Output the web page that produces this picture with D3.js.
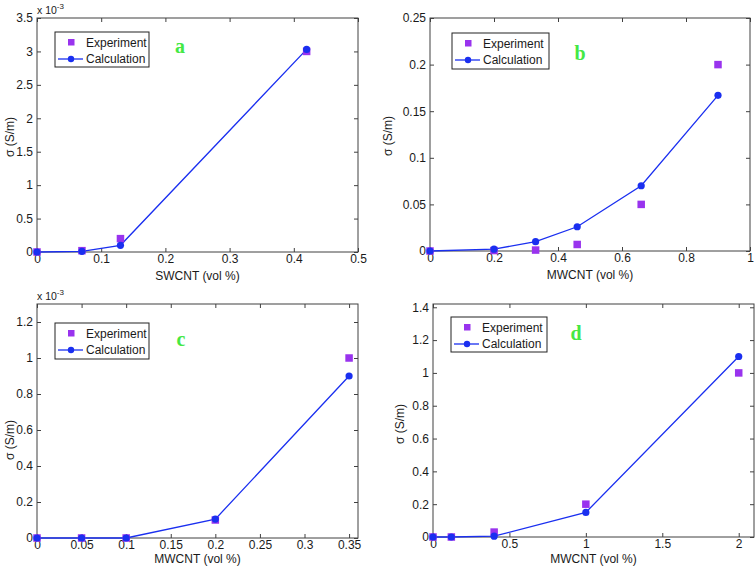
<!DOCTYPE html>
<html><head><meta charset="utf-8">
<script src="https://cdn.jsdelivr.net/npm/d3@7/dist/d3.min.js"></script>
<style>body{margin:0;background:#fff}svg{display:block;font-family:"Liberation Sans",Arial,sans-serif}</style>
</head><body><svg id="c" width="756" height="568"></svg>
<script>
// Panel a (SWCNT), values in units of 1e-3 S/m
const xA = [0, 0.07, 0.13, 0.42];
const expA = [0, 0.02, 0.2, 3.0];
const calcA = [0, 0.01, 0.1, 3.03];
const xTicksA = [0, 0.1, 0.2, 0.3, 0.4, 0.5];
const yTicksA = [0, 0.5, 1, 1.5, 2, 2.5, 3, 3.5];
// Panel b (MWCNT), S/m
const xB = [0, 0.2, 0.33, 0.46, 0.66, 0.9];
const expB = [0, 0.0005, 0.001, 0.007, 0.05, 0.2];
const calcB = [0, 0.002, 0.01, 0.026, 0.07, 0.167];
const xTicksB = [0, 0.2, 0.4, 0.6, 0.8, 1];
const yTicksB = [0, 0.05, 0.1, 0.15, 0.2, 0.25];
// Panel c (MWCNT), units of 1e-3 S/m
const xC = [0, 0.05, 0.1, 0.2, 0.35];
const expC = [0, 0, 0, 0.1, 1.0];
const calcC = [0, 0, 0, 0.105, 0.9];
const xTicksC = [0, 0.05, 0.1, 0.15, 0.2, 0.25, 0.3, 0.35];
const yTicksC = [0, 0.2, 0.4, 0.6, 0.8, 1, 1.2];
// Panel d (MWCNT), S/m
const xD = [0, 0.12, 0.4, 1, 2];
const expD = [0, 0, 0.03, 0.2, 1.0];
const calcD = [0, 0, 0.005, 0.15, 1.1];
const xTicksD = [0, 0.5, 1, 1.5, 2];
const yTicksD = [0, 0.2, 0.4, 0.6, 0.8, 1, 1.2, 1.4];

const svg = d3.select("#c");
const EXP = "#9933ee", CALC = "#1a2ff0", AX = "#404040", GREEN = "#44e844", TXT = "#1a1a1a";
const fmt = v => String(+v.toFixed(3));

function panel(o) {
  const g = svg.append("g");
  const x = d3.scaleLinear().domain(o.xd).range([o.l, o.r]);
  const y = d3.scaleLinear().domain(o.yd).range([o.b, o.t]);
  g.append("rect").attr("x", o.l).attr("y", o.t).attr("width", o.r - o.l).attr("height", o.b - o.t)
    .attr("fill", "none").attr("stroke", AX).attr("stroke-width", 1);
  const ax = [
    [d3.axisBottom(x).tickValues(o.xt).tickFormat(fmt).tickSize(-4).tickPadding(2), `translate(0,${o.b})`],
    [d3.axisTop(x).tickValues(o.xt).tickFormat("").tickSize(-4), `translate(0,${o.t})`],
    [d3.axisLeft(y).tickValues(o.yt).tickFormat(fmt).tickSize(-4).tickPadding(4), `translate(${o.l},0)`],
    [d3.axisRight(y).tickValues(o.yt).tickFormat("").tickSize(-4), `translate(${o.r},0)`]
  ];
  ax.forEach(([a, tr]) => {
    const s = g.append("g").attr("transform", tr).call(a);
    s.select(".domain").remove();
    s.selectAll("line").attr("stroke", AX);
    s.selectAll("text").attr("fill", TXT).style("font-size", "12px").style("font-family", "Liberation Sans, Arial, sans-serif");
  });
  if (o.exp) {
    const t = g.append("text").attr("x", o.l).attr("y", o.t - 4).attr("fill", TXT).style("font-size", "10.5px");
    t.append("tspan").text("x 10");
    t.append("tspan").attr("dy", -5).style("font-size", "8px").text("-3");
  }
  g.append("text").attr("x", (o.l + o.r) / 2).attr("y", o.xly).attr("text-anchor", "middle")
    .attr("fill", TXT).style("font-size", "12px").text(o.xl);
  g.append("text").attr("transform", `translate(${o.ylx},${o.ylc}) rotate(-90)`)
    .attr("text-anchor", "middle").attr("fill", TXT).style("font-size", "12px").text("σ (S/m)");
  const pts = o.x.map((v, i) => [v, o.calc[i]]);
  g.append("path").datum(pts).attr("fill", "none").attr("stroke", CALC).attr("stroke-width", 1.3)
    .attr("d", d3.line().x(d => x(d[0])).y(d => y(d[1])));
  g.selectAll(".sq").data(o.x.map((v, i) => [v, o.expv[i]])).enter().append("rect")
    .attr("x", d => x(d[0]) - 3.75).attr("y", d => y(d[1]) - 3.75).attr("width", 7.5).attr("height", 7.5)
    .attr("fill", EXP);
  g.selectAll(".ci").data(pts).enter().append("circle")
    .attr("cx", d => x(d[0])).attr("cy", d => y(d[1])).attr("r", 3.6).attr("fill", CALC);
  const L = o.leg;
  g.append("rect").attr("x", L[0]).attr("y", L[1]).attr("width", L[2]).attr("height", L[3])
    .attr("fill", "#fff").attr("stroke", "#222").attr("stroke-width", 1);
  g.append("rect").attr("x", L[0] + 13).attr("y", L[1] + 7).attr("width", 6.5).attr("height", 6.5).attr("fill", EXP);
  g.append("text").attr("x", L[0] + 31).attr("y", L[1] + 15).attr("fill", TXT).style("font-size", "12px").text("Experiment");
  g.append("line").attr("x1", L[0] + 3).attr("x2", L[0] + 28).attr("y1", L[1] + 27).attr("y2", L[1] + 27)
    .attr("stroke", CALC).attr("stroke-width", 1.3);
  g.append("circle").attr("cx", L[0] + 16).attr("cy", L[1] + 27).attr("r", 3.2).attr("fill", CALC);
  g.append("text").attr("x", L[0] + 31).attr("y", L[1] + 31).attr("fill", TXT).style("font-size", "12px").text("Calculation");
  g.append("text").attr("x", o.lt[0]).attr("y", o.lt[1]).attr("text-anchor", "middle")
    .attr("fill", GREEN).style("font-family", "Liberation Serif, Times New Roman, serif")
    .style("font-weight", "bold").style("font-size", "20px").text(o.letter);
}

panel({l: 37, r: 358, t: 18, b: 252, xd: [0, 0.5], yd: [0, 3.5], xt: xTicksA, yt: yTicksA,
  x: xA, expv: expA, calc: calcA, exp: true, xl: "SWCNT (vol %)", xly: 280, ylx: 14, ylc: 137,
  leg: [55, 32, 94, 35], lt: [180, 53], letter: "a"});
panel({l: 430, r: 750, t: 18, b: 251, xd: [0, 1], yd: [0, 0.25], xt: xTicksB, yt: yTicksB,
  x: xB, expv: expB, calc: calcB, exp: false, xl: "MWCNT (vol %)", xly: 279, ylx: 392, ylc: 136,
  leg: [452, 33, 97, 36], lt: [580, 60], letter: "b"});
panel({l: 37, r: 358, t: 304, b: 538, xd: [0, 0.36], yd: [0, 1.3], xt: xTicksC, yt: yTicksC,
  x: xC, expv: expC, calc: calcC, exp: true, xl: "MWCNT (vol %)", xly: 563, ylx: 14, ylc: 440,
  leg: [55, 323, 94, 36], lt: [181, 346], letter: "c"});
panel({l: 433, r: 754, t: 304, b: 537, xd: [0, 2.1], yd: [0, 1.42], xt: xTicksD, yt: yTicksD,
  x: xD, expv: expD, calc: calcD, exp: false, xl: "MWCNT (vol %)", xly: 563, ylx: 404, ylc: 424,
  leg: [451, 317, 96, 35], lt: [576, 340], letter: "d"});
</script></body></html>
